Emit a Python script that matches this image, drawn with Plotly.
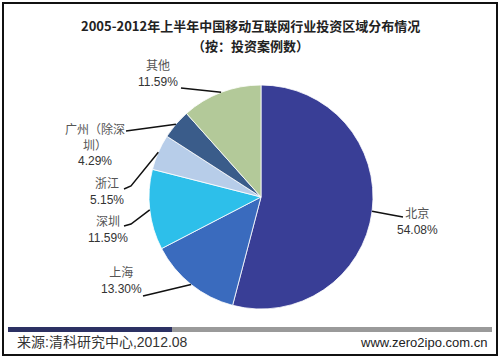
import math
import plotly.graph_objects as go

# ---- data ----
regions = ["北京", "上海", "深圳", "浙江", "广州（除深圳）", "其他"]
shares = [54.08, 13.30, 11.59, 5.15, 4.29, 11.59]
label_texts = ["北京", "上海", "深圳", "浙江", "广州（除深<br>圳）", "其他"]
colors = ["#393E96", "#3A6BBE", "#2DBFEA", "#B7CDE9", "#3A5C8A", "#B3C999"]

title_line1 = "2005-2012年上半年中国移动互联网行业投资区域分布情况"
title_line2 = "（按：投资案例数）"
source_text = "来源:清科研究中心,2012.08"
site_text = "www.zero2ipo.com.cn"

W, H = 500, 361
CX, CY, R = 261, 197, 112

def px(x):
    return x / W

def py(y):
    return 1 - y / H

fig = go.Figure()
fig.add_trace(go.Pie(
    labels=regions, values=shares, sort=False, direction="clockwise",
    rotation=0, textinfo="none", hoverinfo="label+percent",
    marker=dict(colors=colors, line=dict(color="white", width=0.8)),
    domain=dict(x=[px(CX - R), px(CX + R)], y=[py(CY + R), py(CY - R)]),
    showlegend=False,
))

# anchor points on slice edges from the data
total = sum(shares)
anchors = []
cum = 0
for v in shares:
    mid = (cum + v / 2) / total * 2 * math.pi
    anchors.append((CX + R * math.sin(mid), CY - R * math.cos(mid)))
    cum += v

# label centre (px), leader start/elbow points (px)
label_pos = [(417, 222), (121, 280), (108, 230), (107, 192), (95, 145), (158, 74)]
leader_pts = [
    [(403, 217), (392, 215)],
    [(143, 296)],
    [(124, 226), (131, 224)],
    [(124, 189), (131, 186)],
    [(126, 131)],
    [(181, 88)],
]

annotations = []
shapes = []
for i, (txt, v) in enumerate(zip(label_texts, shares)):
    lx, ly = label_pos[i]
    annotations.append(dict(
        x=px(lx), y=py(ly), xref="paper", yref="paper", showarrow=False,
        xanchor="center", yanchor="middle", align="center",
        text=f"<span style='color:#555555'>{txt}</span><br>{v:.2f}%",
        font=dict(family="Liberation Sans, Noto Sans CJK SC", size=12, color="#333333"),
    ))
    pts = leader_pts[i] + [anchors[i]]
    path = "M " + " L ".join(f"{px(x):.5f},{py(y):.5f}" for x, y in pts)
    shapes.append(dict(type="path", xref="paper", yref="paper", path=path,
                       line=dict(color="#111111", width=1.5)))

# title
annotations.append(dict(x=0.5, y=py(25), xref="paper", yref="paper", showarrow=False,
                        text=f"<b>{title_line1}</b>", xanchor="center", yanchor="middle",
                        font=dict(family="Noto Sans CJK SC", size=13, color="#222222")))
annotations.append(dict(x=0.5, y=py(45), xref="paper", yref="paper", showarrow=False,
                        text=f"<b>{title_line2}</b>", xanchor="center", yanchor="middle",
                        font=dict(family="Noto Sans CJK SC", size=13, color="#222222")))
# footer
annotations.append(dict(x=px(15), y=py(342), xref="paper", yref="paper", showarrow=False,
                        text=source_text, xanchor="left", yanchor="middle",
                        font=dict(family="Liberation Sans, Noto Sans CJK SC", size=14, color="#333333")))
annotations.append(dict(x=px(489), y=py(342), xref="paper", yref="paper", showarrow=False,
                        text=site_text, xanchor="right", yanchor="middle",
                        font=dict(family="Liberation Sans", size=13, color="#222222")))

# footer bars
shapes.append(dict(type="rect", xref="paper", yref="paper", x0=px(8), x1=px(172),
                   y0=py(332), y1=py(327), line=dict(width=0), fillcolor="#2C3163"))
shapes.append(dict(type="rect", xref="paper", yref="paper", x0=px(172), x1=px(492),
                   y0=py(332), y1=py(327), line=dict(width=0), fillcolor="#9A9A9A"))
# frame
shapes.append(dict(type="rect", xref="paper", yref="paper", x0=px(3), x1=px(497),
                   y0=py(355), y1=py(3), line=dict(color="#111111", width=2)))

fig.update_layout(
    width=W, height=H, margin=dict(l=0, r=0, t=0, b=0),
    paper_bgcolor="white", plot_bgcolor="white",
    annotations=annotations, shapes=shapes,
)

fig.write_html("out.html", config={"displayModeBar": False},
               post_script="document.body.style.margin='0';document.body.style.overflow='hidden';")
